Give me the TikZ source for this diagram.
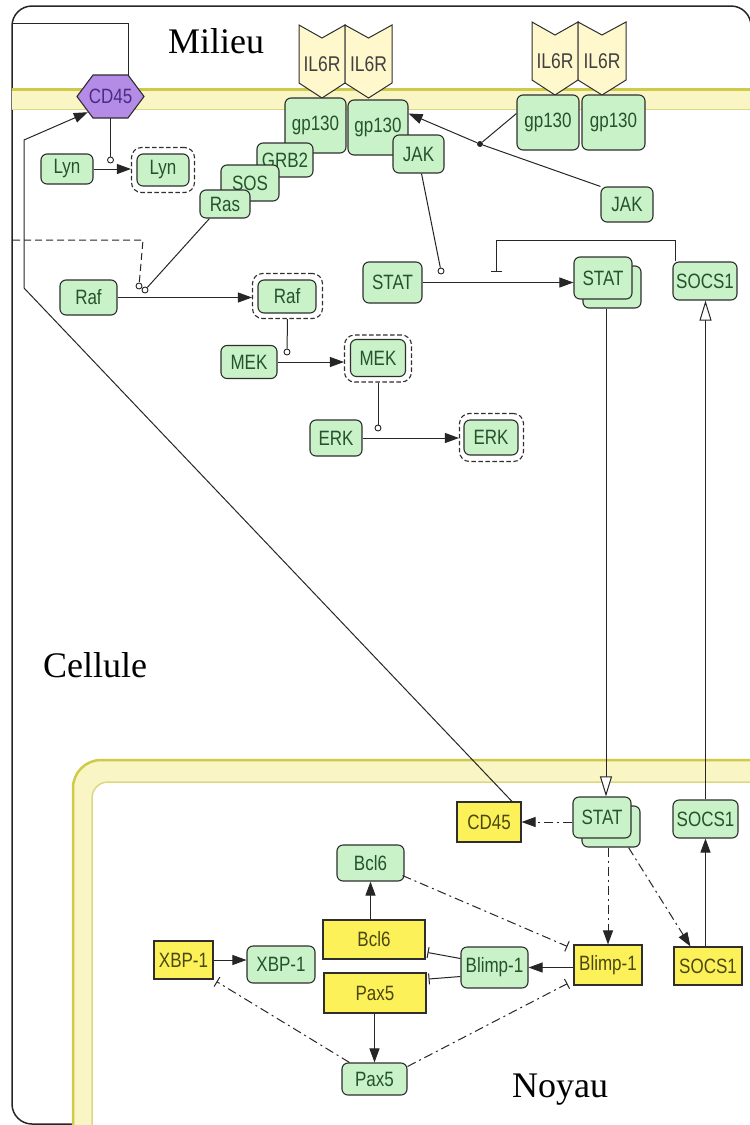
\documentclass[tikz,border=0pt]{standalone}
\usepackage{fontspec}
\usepackage{graphicx}
\setmainfont{Liberation Serif}
\newfontfamily\protfont{Liberation Sans}
\usetikzlibrary{arrows.meta,calc}

\definecolor{protfill}{HTML}{C9F2C9}
\definecolor{prottext}{HTML}{24542A}
\definecolor{genefill}{HTML}{FDF159}
\definecolor{genetext}{HTML}{4A4712}
\definecolor{edgegray}{HTML}{2E2E2E}
\definecolor{linkgray}{HTML}{262626}
\definecolor{recfill}{HTML}{FFF8CC}
\definecolor{hexfill}{HTML}{B48CE8}
\definecolor{hextext}{HTML}{4B2D7F}
\definecolor{bandfill}{HTML}{F9F5C4}
\definecolor{bandedge}{HTML}{CFCB48}
\definecolor{bandedgeb}{HTML}{DCD982}

% labels inside the boxes are drawn slightly taller than wide
\newcommand\tallbox[1]{\scalebox{1}[1.22]{#1}}

\tikzset{
  every node/.style={inner sep=0pt},
  boxfont/.style={font=\protfont\fontsize{17}{18}\selectfont},
  prot/.style={boxfont, draw=edgegray, fill=protfill, rounded corners=6pt, line width=1.1pt, text=prottext},
  gene/.style={boxfont, draw=edgegray, fill=genefill, line width=1.1pt, text=genetext},
  active/.style={draw=edgegray, rounded corners=10pt, line width=1.1pt, dash pattern=on 4.5pt off 2.5pt},
  il6r/.style={draw=edgegray, fill=recfill, line width=1pt, line join=miter},
  il6rtext/.style={font=\protfont\fontsize{17.5}{18}\selectfont, text=black!75},
  link/.style={draw=linkgray, line width=1pt},
  act/.style={link, -{Triangle[length=14pt,width=10pt]}},
  inh/.style={link, -{Bar[width=11pt,line width=1pt]}},
  trans/.style={link, -{Triangle[open,length=20pt,width=12pt,fill=white]}},
  dashdot/.style={dash pattern=on 9pt off 4pt on 2pt off 4pt},
  modcirc/.style={circle, draw=linkgray, fill=white, minimum size=6pt, line width=0.9pt},
  biglabel/.style={font=\fontsize{36}{40}\selectfont, anchor=base west, text=black},
}

\begin{document}
\begin{tikzpicture}[x=1pt,y=-1pt]
\path[use as bounding box] (0,0) rectangle (750,1125);
\clip (0,0) rectangle (750,1125);

% outer frame of the cell
\draw[line width=1.5pt, draw=black!85, rounded corners=20pt] (12,6) rectangle (751,1124);

% plasma membrane
\fill[bandfill] (12,88) rectangle (760,110);
\draw[bandedge, line width=3pt] (12,89.5) -- (760,89.5);
\draw[bandedgeb, line width=1.5pt] (12,109.5) -- (760,109.5);

% nuclear envelope
\fill[bandfill, rounded corners=28pt] (73,760) rectangle (800,1200);
\fill[white, rounded corners=16pt] (92,782) rectangle (800,1200);
\draw[bandedge, line width=2.5pt, rounded corners=28pt] (73,1200) -- (73,760) -- (800,760);
\draw[bandedgeb, line width=1.5pt, rounded corners=16pt] (92,1200) -- (92,782) -- (800,782);

% region labels
\node[biglabel] (milieu) at (168,53) {Milieu};
\node[biglabel] (cellule) at (43,677) {Cellule};
\node[biglabel] (noyau) at (512,1097) {Noyau};

% IL6R receptors
\foreach \xl/\yt/\bw/\nm in {299/25/46/ila, 345/25/47/ilb, 532/22/46/ilc, 578/22/48/ild}{
  \draw[il6r] (\xl,\yt) -- (\xl+\bw/2,\yt+13) -- (\xl+\bw,\yt) -- (\xl+\bw,\yt+58)
     -- (\xl+\bw/2,\yt+73) -- (\xl,\yt+58) -- cycle;
  \node[il6rtext] (\nm) at (\xl+\bw/2,\yt+39) {\tallbox{IL6R}};
}

% CD45 at the membrane
\draw[draw=edgegray, fill=hexfill, line width=1.1pt, line join=miter]
  (77,96.5) -- (93,75) -- (128,75) -- (144,96.5) -- (128,118) -- (93,118) -- cycle;
\node[boxfont, text=hextext, minimum width=67pt, minimum height=43pt] (cdhex) at (110.5,96.5) {\tallbox{CD45}};

% Lyn
\node[prot, minimum width=52pt, minimum height=30pt] (lyn) at (67,169) {\tallbox{Lyn}};
\node[active, minimum width=63pt, minimum height=45pt] (lynAo) at (163,170) {};
\node[prot, minimum width=52pt, minimum height=32pt] (lynA) at (163,170) {\tallbox{Lyn}};

% receptor complex
\node[prot, minimum width=61pt, minimum height=55pt] (gpa) at (315.5,125.5) {\tallbox{gp130}};
\node[prot, minimum width=60pt, minimum height=55pt] (gpb) at (378,127.5) {\tallbox{gp130}};
\node[prot, minimum width=56pt, minimum height=34pt] (grb) at (285,160) {\tallbox{GRB2}};
\node[prot, minimum width=58pt, minimum height=36pt] (sos) at (250,183) {\tallbox{SOS}};
\node[prot, minimum width=50pt, minimum height=28pt] (ras) at (225,204) {\tallbox{Ras}};
\node[prot, minimum width=51pt, minimum height=38pt] (jaka) at (418.5,154) {\tallbox{JAK}};
\node[prot, minimum width=62pt, minimum height=55pt] (gpc) at (548,122.5) {\tallbox{gp130}};
\node[prot, minimum width=63pt, minimum height=55pt] (gpd) at (613.5,122.5) {\tallbox{gp130}};
\node[prot, minimum width=52pt, minimum height=35pt] (jakb) at (627,204.5) {\tallbox{JAK}};

% STAT / SOCS1 in the cytoplasm
\node[prot, minimum width=59pt, minimum height=41pt] (stata) at (392.5,282.5) {\tallbox{STAT}};
\node[prot, minimum width=58pt, minimum height=42pt] (statbb) at (612,287) {};
\node[prot, minimum width=58pt, minimum height=42pt] (statb) at (603,278) {\tallbox{STAT}};
\node[prot, minimum width=64pt, minimum height=38pt] (socsa) at (705,281) {\tallbox{SOCS1}};

% MAPK cascade
\node[prot, minimum width=57pt, minimum height=35pt] (raf) at (88.5,297.5) {\tallbox{Raf}};
\node[active, minimum width=70pt, minimum height=45pt] (rafAo) at (287.5,296) {};
\node[prot, minimum width=58pt, minimum height=33pt] (rafA) at (287,296.5) {\tallbox{Raf}};
\node[prot, minimum width=56pt, minimum height=33pt] (mek) at (249,362) {\tallbox{MEK}};
\node[active, minimum width=67pt, minimum height=47pt] (mekAo) at (378,358.5) {};
\node[prot, minimum width=55pt, minimum height=37pt] (mekA) at (378,358) {\tallbox{MEK}};
\node[prot, minimum width=52pt, minimum height=36pt] (erk) at (336,438) {\tallbox{ERK}};
\node[active, minimum width=64pt, minimum height=48pt] (erkAo) at (491.5,437.5) {};
\node[prot, minimum width=54pt, minimum height=35pt] (erkA) at (491,437.5) {\tallbox{ERK}};

% nucleus
\node[prot, minimum width=58pt, minimum height=41pt] (statnb) at (611,826.5) {};
\node[prot, minimum width=58pt, minimum height=41pt] (statn) at (602,817.5) {\tallbox{STAT}};
\node[prot, minimum width=65pt, minimum height=38pt] (socsn) at (705.5,819) {\tallbox{SOCS1}};
\node[gene, minimum width=64pt, minimum height=40pt] (cdg) at (489,822) {\tallbox{CD45}};
\node[gene, minimum width=68pt, minimum height=40pt] (blimpg) at (608,965) {\tallbox{Blimp-1}};
\node[gene, minimum width=68pt, minimum height=38pt] (socsg) at (708,966) {\tallbox{SOCS1}};
\node[prot, minimum width=67pt, minimum height=41pt] (blimp) at (494.5,967.5) {\tallbox{Blimp-1}};
\node[gene, minimum width=102pt, minimum height=39pt] (bclg) at (374,939.5) {\tallbox{Bcl6}};
\node[gene, minimum width=102pt, minimum height=40pt] (paxg) at (375,993) {\tallbox{Pax5}};
\node[prot, minimum width=67pt, minimum height=36pt] (bcl) at (370.5,863) {\tallbox{Bcl6}};
\node[prot, minimum width=65pt, minimum height=32pt] (pax) at (374.5,1079) {\tallbox{Pax5}};
\node[gene, minimum width=59pt, minimum height=38pt] (xbpg) at (183.5,960) {\tallbox{XBP-1}};
\node[prot, minimum width=68pt, minimum height=37pt] (xbp) at (281,964.5) {\tallbox{XBP-1}};

% ---- connectors ----
% CD45 links
\coordinate (cdbend) at (128,23);
\coordinate (cdexit) at (13,23);
\draw[link] (cdhex.north -| cdbend) -- (cdbend) -- (cdexit);
\coordinate (cdlowbend) at (24,288);
\coordinate (cdupbend) at (24,140);
\draw[act] ($(cdg.north)+(23,0)$) -- (cdlowbend) -- (cdupbend) -- ($(cdhex.south west)+(11,-6)$);

% Lyn activation
\node[modcirc] (lyncat) at (110.5,160) {};
\draw[link] (cdhex.south) -- (lyncat);
\draw[act] (lyn.east) -- (lyn.east -| lynAo.west);

% Raf activation
\node[modcirc] (rafcata) at (139,286) {};
\node[modcirc] (rafcatb) at (145,290) {};
\coordinate (dashexit) at (13,240);
\coordinate (dashbend) at (143,240);
\draw[link, dash pattern=on 7pt off 4pt] (dashexit) -- (dashbend) -- (rafcata);
\draw[link] ($(ras.south west)+(10,0)$) -- (rafcatb);
\draw[act] (raf.east) -- (raf.east -| rafAo.west);

% MEK and ERK activation
\node[modcirc] (mekcat) at (287,352) {};
\draw[link] (rafAo.south) -- (mekcat);
\draw[act] (mek.east) -- (mek.east -| mekAo.west);
\node[modcirc] (erkcat) at (378,428) {};
\draw[link] (mekAo.south) -- (erkcat);
\draw[act] (erk.east) -- (erk.east -| erkAo.west);

% JAK binding to gp130
\node[circle, fill=linkgray, minimum size=6pt] (jakdot) at (480,144) {};
\draw[link] (jakb.north west) -- (jakdot);
\draw[link] ($(gpc.west)+(0,-9)$) -- (jakdot);
\draw[act] (jakdot) -- ($(gpb.east)+(0,-14)$);

% STAT activation and its inhibition by SOCS1
\node[modcirc] (statcat) at (441,271) {};
\draw[link] ($(jaka.south)+(3,0)$) -- (statcat);
\draw[act] (stata.east) -- (stata.east -| statb.west);
\coordinate (socsbendr) at (675,240);
\coordinate (socsbendl) at (496,240);
\coordinate (socsbar) at (496,272);
\draw[inh] (socsa.north -| socsbendr) -- (socsbendr) -- (socsbendl) -- (socsbar);

% nuclear transport
\draw[trans] ($(statbb.south)+(-6,0)$) -- ($(statn.north)+(4,0)$);
\draw[trans] (socsn.north) -- (socsn.north |- socsa.south);

% transcription and translation in the nucleus
\draw[act] (socsn.south |- socsg.north) -- (socsn.south);
\draw[act, dashdot] (cdg.east -| statn.west) -- (cdg.east);
\draw[act, dashdot] (statnb.south -| blimpg.north) -- (blimpg.north);
\draw[act, dashdot] ($(statnb.south east)+(-12,0)$) -- ($(socsg.north west)+(17,0)$);
\draw[act] (blimpg.west |- blimp.east) -- (blimp.east);
\draw[inh] ($(blimp.west)+(0,-9)$) -- ($(bclg.east)+(2,13)$);
\draw[inh] ($(blimp.west)+(0,9)$) -- ($(paxg.east)+(2,-14)$);
\draw[act] (bclg.north -| bcl) -- (bcl.south);
\draw[act] (paxg.south -| pax) -- (pax.north);
\draw[act] (xbpg.east) -- (xbpg.east -| xbp.west);
\draw[inh, dashdot] ($(bcl.south east)+(-2,-6)$) -- ($(blimpg.north west)+(-6,2)$);
\draw[inh, dashdot] ($(pax.north east)+(0,4)$) -- ($(blimpg.south west)+(-6,-2)$);
\draw[inh, dashdot] ($(pax.north west)+(8,0)$) -- ($(xbpg.south east)+(3,2)$);
\end{tikzpicture}
\end{document}
